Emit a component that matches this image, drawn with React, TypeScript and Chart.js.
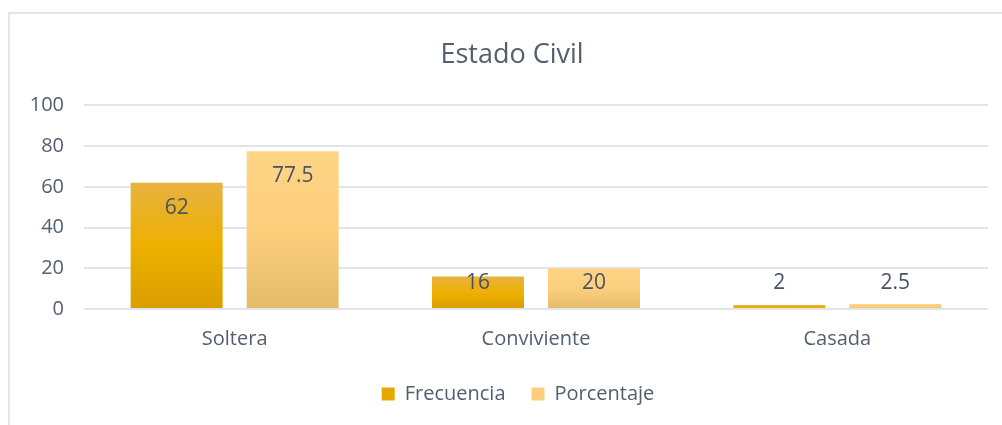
import React, { useEffect, useRef } from 'react';
import { Chart, registerables } from 'chart.js';

Chart.register(...registerables);

const categories = ['Soltera', 'Conviviente', 'Casada'];
const frecuencia = [62, 16, 2];
const porcentaje = [77.5, 20, 2.5];
const seriesNames = ['Frecuencia', 'Porcentaje'];
const yTicks = [0, 20, 40, 60, 80, 100];

const FONT = "'Open Sans', 'Noto Sans', sans-serif";
const TEXT = '#535e6e';
const frecStops = ['#e8b23f', '#edb000', '#d99e00'];
const porcStops = ['#ffd486', '#fccf7d', '#e4bb69'];
const legendColors = ['#e6a900', '#fdcf7c'];

function barGradient(stops: string[]) {
  return (ctx: any) => {
    const chart = ctx.chart;
    const y = chart.scales && chart.scales.y;
    if (!y || ctx.type !== 'data') return stops[1];
    const v = ctx.parsed ? ctx.parsed.y : ctx.raw;
    const top = y.getPixelForValue(v);
    const bottom = y.getPixelForValue(0);
    if (!isFinite(top) || !isFinite(bottom) || Math.abs(bottom - top) < 1) return stops[1];
    const g = chart.ctx.createLinearGradient(0, top, 0, bottom);
    g.addColorStop(0, stops[0]);
    g.addColorStop(0.5, stops[1]);
    g.addColorStop(1, stops[2]);
    return g;
  };
}

const valueLabels = {
  id: 'valueLabels',
  afterDatasetsDraw(chart: any) {
    const ctx = chart.ctx;
    const base = chart.scales.y.getPixelForValue(0);
    ctx.save();
    ctx.font = `21px ${FONT}`;
    ctx.fillStyle = '#4a5362';
    ctx.textAlign = 'center';
    ctx.textBaseline = 'middle';
    chart.data.datasets.forEach((ds: any, di: number) => {
      const meta = chart.getDatasetMeta(di);
      meta.data.forEach((el: any, i: number) => {
        const y = Math.min(el.y + 25, base - 26);
        ctx.fillText(String(ds.data[i]), el.x, y);
      });
    });
    ctx.restore();
  },
};

const shiftBoxes = {
  id: 'shiftBoxes',
  afterLayout(chart: any) {
    const t = chart.titleBlock;
    if (t) {
      t.left += 18;
      t.right += 18;
    }
    const l = chart.legend;
    if (l) {
      l.left += 24;
      l.right += 24;
    }
  },
};

export default function App() {
  const ref = useRef<HTMLCanvasElement | null>(null);

  useEffect(() => {
    if (!ref.current) return;
    const chart = new Chart(ref.current, {
      type: 'bar',
      data: {
        labels: categories,
        datasets: [
          {
            label: seriesNames[0],
            data: frecuencia,
            backgroundColor: barGradient(frecStops) as any,
            borderWidth: 0,
            barPercentage: 0.793,
            categoryPercentage: 0.77,
          },
          {
            label: seriesNames[1],
            data: porcentaje,
            backgroundColor: barGradient(porcStops) as any,
            borderWidth: 0,
            barPercentage: 0.793,
            categoryPercentage: 0.77,
          },
        ],
      },
      options: {
        animation: false,
        responsive: false,
        maintainAspectRatio: false,
        layout: { padding: { left: 0, right: 14, top: 0, bottom: 11 } },
        plugins: {
          title: {
            display: true,
            text: 'Estado Civil',
            color: TEXT,
            font: { family: FONT, size: 27, weight: 'normal' },
            padding: { top: 39, bottom: 34 },
          },
          legend: {
            position: 'bottom',
            labels: {
              boxWidth: 13,
              boxHeight: 13,
              padding: 26,
              color: TEXT,
              font: { family: FONT, size: 20 },
              generateLabels: () =>
                seriesNames.map((n, i) => ({
                  text: n,
                  fillStyle: legendColors[i],
                  strokeStyle: legendColors[i],
                  lineWidth: 0,
                  hidden: false,
                  datasetIndex: i,
                  fontColor: TEXT,
                })),
            },
          },
          tooltip: { enabled: false },
        },
        scales: {
          x: {
            afterFit: (s: any) => {
              s.height = 49;
            },
            grid: { display: false },
            border: { display: false },
            ticks: { color: TEXT, font: { family: FONT, size: 20 }, padding: 10 },
          },
          y: {
            min: 0,
            max: 100,
            afterFit: (s: any) => {
              s.width = 84;
            },
            afterBuildTicks: (s: any) => {
              s.ticks = yTicks.map((v) => ({ value: v }));
            },
            grid: { color: '#e1e4e9', lineWidth: 2, drawTicks: false },
            border: { display: false },
            ticks: { color: TEXT, font: { family: FONT, size: 20 }, padding: 20 },
          },
        },
      },
      plugins: [valueLabels, shiftBoxes],
    });
    return () => chart.destroy();
  }, []);

  return (
    <div style={{ position: 'fixed', left: 0, top: 0, width: 1002, height: 425, overflow: 'hidden', background: '#fff' }}>
      <div
        style={{
          position: 'absolute',
          left: 8,
          top: 12,
          width: 1100,
          height: 600,
          border: '2px solid #e3e6eb',
        }}
      />
      <canvas ref={ref} width={1002} height={425} style={{ position: 'absolute', left: 0, top: 0, width: 1002, height: 425 }} />
    </div>
  );
}
